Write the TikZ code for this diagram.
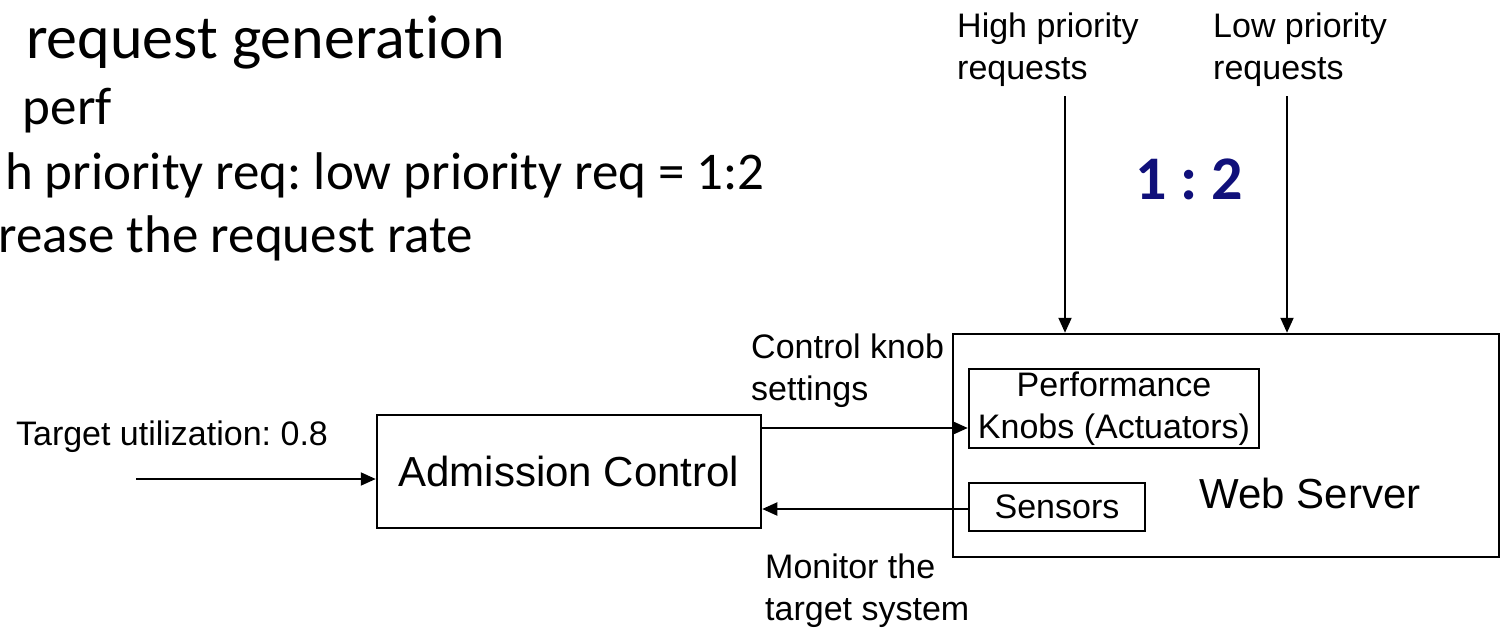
\documentclass[tikz,border=0pt]{standalone}
\usepackage{fontspec}
\setmainfont{Liberation Sans}
\newfontfamily\calib[RawFeature=-liga]{Carlito}
\usetikzlibrary{arrows.meta}
\frenchspacing
\definecolor{ratioblue}{RGB}{16,16,122}
\tikzset{
  box/.style={draw, line width=2.5pt, rectangle, inner sep=0pt},
  lbl/.style={inner sep=0pt, font=\fontsize{34}{42}\selectfont},
  big/.style={inner sep=0pt, font=\fontsize{42}{50}\selectfont},
  slide/.style={inner sep=0pt, anchor=base east, font=\calib\fontsize{53}{63}\selectfont},
  arr/.style={line width=2pt, -{Triangle[length=15pt,width=13pt]}},
}
\begin{document}
\begin{tikzpicture}[x=1pt,y=-1pt]
\useasboundingbox (0,0) rectangle (1501,629);

% slide text on the left
\node[slide, font=\calib\fontsize{62}{74}\selectfont] (title) at (505,58) {request generation};
\node[slide] (b1) at (112,124) {perf};
\node[slide] (b2) at (765,189) {h priority req: low priority req = 1:2};
\node[slide] (b3) at (473,252) {rease the request rate};

% boxes
\node[box, minimum width=546pt, minimum height=223pt] (web) at (1226,445.5) {};
\node[box, minimum width=290pt, minimum height=79pt, align=center, font=\fontsize{34}{42}\selectfont] (perf) at (1114,408.5) {Performance\\Knobs (Actuators)};
\node[box, minimum width=176pt, minimum height=48pt, font=\fontsize{34}{42}\selectfont] (sens) at (1057,507) {Sensors};
\node[big] (webtxt) at (1310,493) {Web Server};
\node[box, minimum width=384pt, minimum height=113pt, font=\fontsize{42}{50}\selectfont] (adm) at (569,471.5) {Admission Control};

% labels
\node[lbl] (tu) at (172,437) {Target utilization: 0.8};
\node[lbl, anchor=west, align=left] (ck) at (751,371) {Control knob\\settings};
\node[lbl, anchor=west, align=left] (mon) at (765,591) {Monitor the\\target system};
\node[lbl, anchor=west, align=left] (hpr) at (957,50) {High priority\\requests};
\node[lbl, anchor=west, align=left] (lpr) at (1213,50) {Low priority\\requests};
\node[inner sep=0pt, text=ratioblue, font=\calib\bfseries\fontsize{62}{74}\selectfont] (ratio) at (1189,179) {1 : 2};

% connectors
\coordinate (tgt) at (136,479);
\draw[arr] (tgt) -- (tgt -| adm.west);
\coordinate (ky) at (0,428);
\draw[arr] (adm.east |- ky) -- (perf.west |- ky);
\coordinate (sy) at (0,509);
\draw[arr] (sens.west |- sy) -- (adm.east |- sy);
\coordinate (hp) at (1065,96);
\draw[arr] (hp) -- (hp |- web.north);
\coordinate (lp) at (1287,96);
\draw[arr] (lp) -- (lp |- web.north);
\end{tikzpicture}
\end{document}
